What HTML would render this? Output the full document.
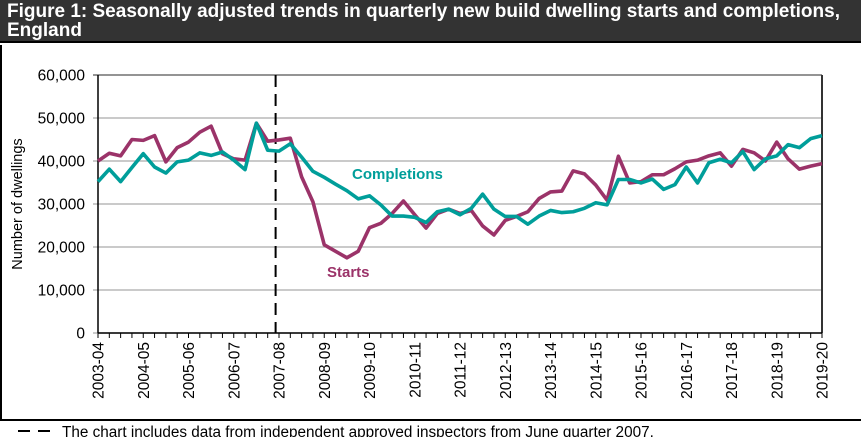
<!DOCTYPE html>
<html><head><meta charset="utf-8"><style>
body{margin:0;width:861px;height:437px;overflow:hidden;background:#fff;font-family:"Liberation Sans",Arial,sans-serif}
#title{position:absolute;left:0;top:0;width:861px;height:43px;background:#333;color:#fff;font-weight:bold;font-size:19px;line-height:19px;padding:2px 0 0 7px;box-sizing:border-box;border-bottom:2px solid #000;white-space:nowrap}
</style></head><body>
<div id="title">Figure 1: Seasonally adjusted trends in quarterly new build dwelling starts and completions,<br>England</div>
<svg id="chart" width="861" height="437" style="position:absolute;left:0;top:0">
<line x1="1" y1="45" x2="1" y2="421" stroke="#000" stroke-width="2"/>
<line x1="0" y1="420" x2="861" y2="420" stroke="#000" stroke-width="2"/>
<g id="grid"></g><g id="axes"></g><g id="series"></g>
<text x="352" y="179" fill="#009E9A" font-weight="bold" font-size="15">Completions</text>
<text x="327" y="277" fill="#9B3369" font-weight="bold" font-size="15">Starts</text>
<text transform="translate(22,204) rotate(-90)" text-anchor="middle" font-size="14.5">Number  of dwellings</text>
<line x1="18" y1="431" x2="50" y2="431" stroke="#000" stroke-width="2" stroke-dasharray="12,8"/>
<text x="62" y="437" font-size="15.3">The chart includes data from independent approved inspectors from June quarter 2007.</text>
</svg>
<script>
const years=["2003-04","2004-05","2005-06","2006-07","2007-08","2008-09","2009-10","2010-11","2011-12","2012-13","2013-14","2014-15","2015-16","2016-17","2017-18","2018-19","2019-20"];
const yTicks=[0,10000,20000,30000,40000,50000,60000];
const starts=[40000,41800,41200,45000,44800,45900,39800,43100,44400,46700,48100,41700,40500,40200,48800,44600,44900,45300,36300,30500,20500,19000,17500,19000,24500,25500,27800,30700,27500,24400,27800,28800,27800,28500,24900,22800,26200,27100,28200,31300,32800,33000,37700,37000,34400,30900,41100,34900,35200,36800,36800,38200,39800,40200,41200,41900,38800,42700,41900,40000,44400,40500,38100,38800,39400];
const completions=[35200,38100,35200,38500,41700,38600,37200,39800,40200,41900,41300,42100,40200,38000,48800,42500,42300,44000,40900,37600,36200,34600,33100,31200,31900,29800,27200,27200,26900,25700,28200,28800,27500,29000,32300,28800,27100,27100,25300,27200,28500,28000,28200,29000,30300,29800,35700,35700,34900,35800,33400,34500,38600,34900,39600,40400,39600,42200,38000,40500,41200,43800,43100,45200,45900];
const breakIndex=15.7;
const X0=98,X1=822,Y0=333,Y1=75,NQ=64,YMAX=60000;
const xs=i=>X0+i*(X1-X0)/NQ;
const ys=v=>Y0-v*(Y0-Y1)/YMAX;
const NS="http://www.w3.org/2000/svg";
function mk(p,tag,a){const e=document.createElementNS(NS,tag);for(const k in a)e.setAttribute(k,a[k]);p.appendChild(e);return e;}
const grid=document.getElementById('grid'),axes=document.getElementById('axes'),ser=document.getElementById('series');
yTicks.forEach(v=>{
  const g=mk(grid,'line',{x1:X0-5,x2:X1,y1:ys(v),y2:ys(v),stroke:v==YMAX?'#555':'#aaa','stroke-width':1.2});
  
  
  const t=mk(axes,'text',{x:85,y:ys(v)+5.5,'text-anchor':'end','font-size':15.5});
  t.textContent=v.toLocaleString('en-GB');
  
  
});
let a=mk(axes,'line',{x1:X0,x2:X0,y1:Y1,y2:Y0,stroke:'#000','stroke-width':1.5});


a=mk(axes,'line',{x1:X1,x2:X1,y1:Y1,y2:Y0,stroke:'#333','stroke-width':2});


a=mk(axes,'line',{x1:X0,x2:X1,y1:Y0,y2:Y0,stroke:'#000','stroke-width':1.5});


for(let i=0;i<=NQ;i++){
  const tk=mk(axes,'line',{x1:xs(i),x2:xs(i),y1:Y0,y2:Y0+5,stroke:'#000','stroke-width':1});
  
  
}
years.forEach((y,k)=>{
  const x=xs(k*4);
  const t=mk(axes,'text',{transform:`translate(${x+5.5},342) rotate(-90)`,'text-anchor':'end','font-size':15.5});
  t.textContent=y;
  
  
});
const d=mk(axes,'line',{x1:xs(breakIndex),x2:xs(breakIndex),y1:Y1,y2:Y0,stroke:'#000','stroke-width':2,'stroke-dasharray':'12,7'});


function line(vals,col,name){
  const p=mk(ser,'polyline',{points:vals.map((v,i)=>xs(i)+','+ys(v)).join(' '),fill:'none',stroke:col,'stroke-width':3.6,'stroke-linejoin':'round'});
  
  
}
line(starts,'#9B3369','starts-line');
line(completions,'#009E9A','completions-line');
</script>
</body></html>
